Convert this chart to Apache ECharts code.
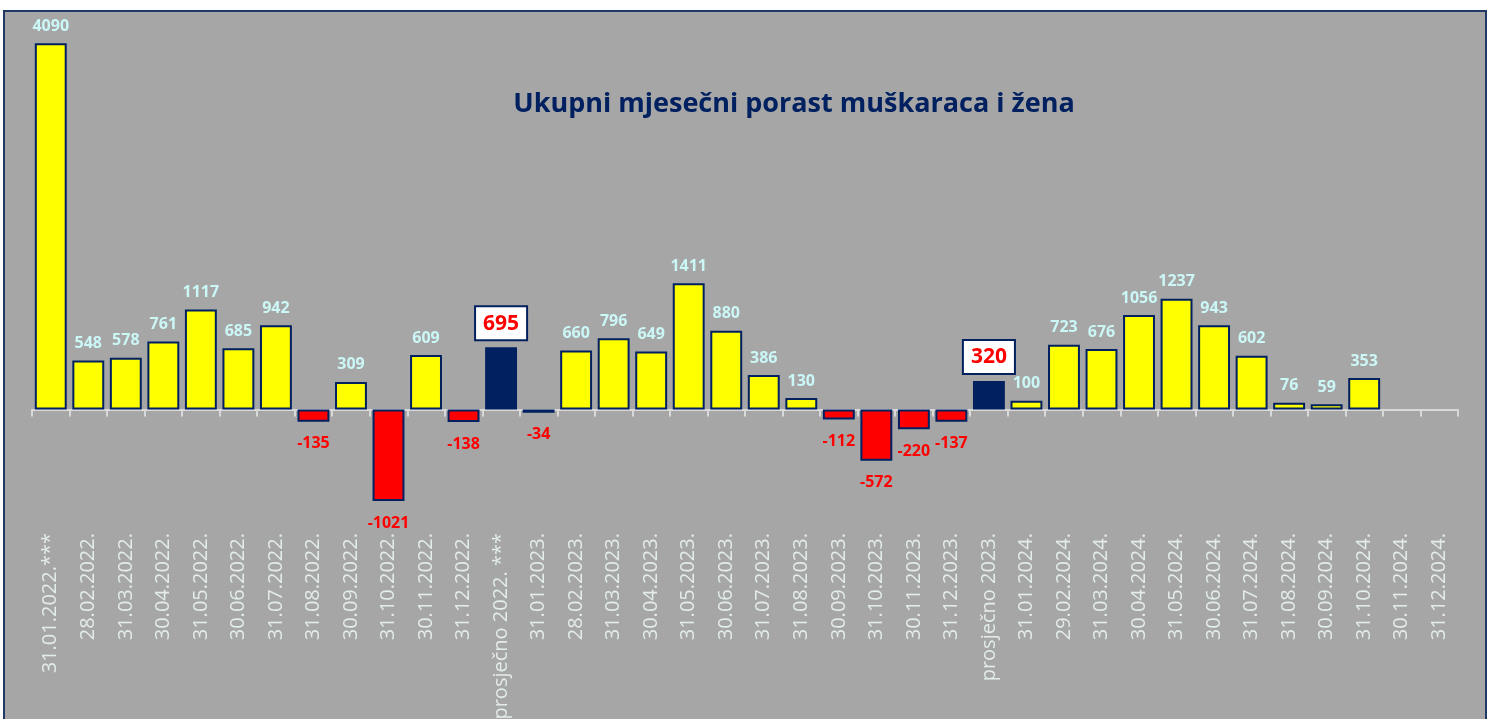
<!DOCTYPE html>
<html>
<head>
<meta charset="utf-8">
<script src="https://cdn.jsdelivr.net/npm/echarts@6/dist/echarts.min.js"></script>
<style>
  html, body { margin: 0; padding: 0; background: #ffffff; overflow: hidden; }
  #frame { position: absolute; left: 3px; top: 10px; width: 1480px; height: 730px;
           background: #a6a6a6; border: 2px solid #1f3864; }
  #chart { position: absolute; left: 0; top: 0; width: 1499px; height: 719px; }
</style>
</head>
<body>
<div id="frame"></div>
<div id="chart"></div>
<script>
// Monthly growth figures (men and women combined)
const categories = [
  '31.01.2022.***', '28.02.2022.', '31.03.2022.', '30.04.2022.', '31.05.2022.', '30.06.2022.',
  '31.07.2022.', '31.08.2022.', '30.09.2022.', '31.10.2022.', '30.11.2022.', '31.12.2022.',
  'prosječno 2022. ***',
  '31.01.2023.', '28.02.2023.', '31.03.2023.', '30.04.2023.', '31.05.2023.', '30.06.2023.',
  '31.07.2023.', '31.08.2023.', '30.09.2023.', '31.10.2023.', '30.11.2023.', '31.12.2023.',
  'prosječno 2023.',
  '31.01.2024.', '29.02.2024.', '31.03.2024.', '30.04.2024.', '31.05.2024.', '30.06.2024.',
  '31.07.2024.', '31.08.2024.', '30.09.2024.', '31.10.2024.', '30.11.2024.', '31.12.2024.'
];
const values = [
  4090, 548, 578, 761, 1117, 685, 942, -135, 309, -1021, 609, -138,
  695,
  -34, 660, 796, 649, 1411, 880, 386, 130, -112, -572, -220, -137,
  320,
  100, 723, 676, 1056, 1237, 943, 602, 76, 59, 353, null, null
];
// indexes of the yearly average columns
const averageIdx = [12, 25];

const NAVY = '#002060';
const FONT = 'Open Sans';

const data = values.map((v, i) => {
  if (v === null) return null;
  if (averageIdx.includes(i)) {
    return {
      value: v,
      itemStyle: { color: NAVY, borderColor: NAVY },
      label: {
        show: true, position: 'top', distance: 8,
        color: '#ff0000', fontSize: 21, fontWeight: 'bold', fontFamily: FONT,
        backgroundColor: '#ffffff', borderColor: NAVY, borderWidth: 2,
        padding: [6, 7, 5, 7]
      }
    };
  }
  if (v < 0) {
    return {
      value: v,
      itemStyle: { color: '#ff0000' },
      label: { show: true, position: 'bottom', distance: 14, color: '#ff0000' }
    };
  }
  return { value: v };
});

const chart = echarts.init(document.getElementById('chart'));
chart.setOption({
  backgroundColor: 'transparent',
  animation: false,
  title: {
    text: 'Ukupni mjesečni porast muškaraca i žena',
    left: 789, top: 86, textAlign: 'center',
    textStyle: { color: NAVY, fontSize: 27, fontWeight: 'bold', fontFamily: FONT }
  },
  grid: { left: 32, right: 41, top: 33.5, bottom: 193, outerBoundsMode: 'none' },
  xAxis: {
    type: 'category',
    data: categories,
    axisLine: { onZero: true, lineStyle: { color: '#d9d9d9', width: 2 } },
    axisTick: { show: true, length: 7, lineStyle: { color: '#d9d9d9', width: 2 } },
    axisLabel: {
      interval: 0, rotate: 90, margin: 7,
      color: '#e2ece9', fontSize: 20, fontFamily: FONT
    }
  },
  yAxis: {
    type: 'value', min: -1300, max: 4200, show: false,
    splitLine: { show: false }
  },
  series: [{
    type: 'bar',
    data: data,
    barCategoryGap: '15%',
    itemStyle: { color: '#ffff00', borderColor: NAVY, borderWidth: 2 },
    label: {
      show: true, position: 'top', distance: 9,
      color: '#ccf7f7', fontSize: 16, fontWeight: 'bold', fontFamily: FONT
    }
  }]
});
</script>
</body>
</html>
